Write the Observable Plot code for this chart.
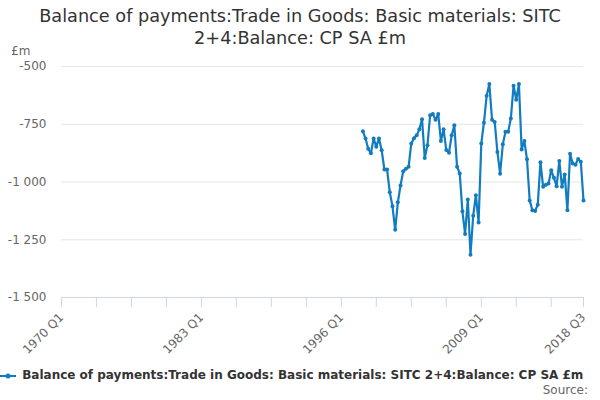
<!DOCTYPE html>
<html>
<head>
<meta charset="utf-8">
<script src="https://cdn.jsdelivr.net/npm/d3@7"></script>
<script src="https://cdn.jsdelivr.net/npm/@observablehq/plot@0.6"></script>
<style>
  html, body { margin: 0; padding: 0; background: #fff; }
  #wrap { position: relative; width: 600px; height: 400px; overflow: hidden; font-family: "DejaVu Sans", sans-serif; }
  #title { position: absolute; left: 0; top: 5px; width: 600px; text-align: center; font-size: 17.7px; line-height: 22px; color: #333; }
  #chart { position: absolute; left: 0; top: 56px; }
  #unit { position: absolute; left: 11px; top: 44px; font-size: 12px; color: #666; }
  #legend { position: absolute; left: 0; top: 368px; width: 640px; white-space: nowrap; font-size: 12px; font-weight: bold; color: #333; }
  #legend svg { vertical-align: middle; }
  #source { position: absolute; right: 12px; top: 383px; font-size: 12px; color: #666; }
</style>
</head>
<body>
<div id="wrap">
  <div id="title">Balance of payments:Trade in Goods: Basic materials: SITC<br>2+4:Balance: CP SA £m</div>
  <div id="unit">£m</div>
  <div id="chart"></div>
  <div id="legend"><svg width="18" height="10"><line x1="0" y1="5" x2="16" y2="5" stroke="#127cc1" stroke-width="2"/><circle cx="8" cy="5" r="2.5" fill="#127cc1"/></svg> Balance of payments:Trade in Goods: Basic materials: SITC 2+4:Balance: CP SA £m</div>
  <div id="source">Source:</div>
</div>
<script>
const seriesName = "Balance of payments:Trade in Goods: Basic materials: SITC 2+4:Balance: CP SA £m";
const startYear = 1998;
const values = [
  -780, -812, -856, -876,
  -812, -847, -812, -863,
  -946, -946, -1044, -1105,
  -1207, -1088, -1015, -953,
  -943, -934, -833, -811,
  -798, -772, -728, -896,
  -841, -711, -706, -731,
  -706, -822, -772, -862,
  -873, -798, -754, -934,
  -963, -1127, -1225, -1076,
  -1315, -1146, -1057, -1175,
  -833, -743, -627, -576,
  -731, -740, -870, -964,
  -837, -783, -783, -725,
  -583, -644, -576, -859,
  -822, -902, -1080, -1122,
  -1125, -1098, -914, -1021,
  -1012, -1007, -949, -982,
  -1018, -909, -1021, -967,
  -1122, -878, -920, -925,
  -900, -912, -1080
];
const yTicks = [-500, -750, -1000, -1250, -1500];
const xTickLabels = ["1970 Q1", "1973 Q2", "1976 Q3", "1979 Q4", "1983 Q1", "1986 Q2", "1989 Q3", "1992 Q4",
  "1996 Q1", "1999 Q2", "2002 Q3", "2005 Q4", "2009 Q1", "2012 Q2", "2015 Q3", "2018 Q3"];
const shownLabels = ["1970 Q1", "1983 Q1", "1996 Q1", "2009 Q1", "2018 Q3"];

const qDate = (label) => {
  const [y, q] = label.split(" Q");
  return new Date(Date.UTC(+y, (+q - 1) * 3, 1));
};
const data = values.map((v, i) => ({
  date: new Date(Date.UTC(startYear + Math.floor(i / 4), (i % 4) * 3, 1)),
  value: v
}));
const tickDates = xTickLabels.map(qDate);
const labelOf = new Map(xTickLabels.map((l) => [+qDate(l), l]));
const fmtY = (d) => {
  const s = Math.abs(d).toString().replace(/\B(?=(\d{3})+(?!\d))/g, " ");
  return (d < 0 ? "-" : "") + s;
};
const blue = "#127cc1";

const chart = Plot.plot({
  width: 600,
  height: 310,
  marginTop: 10,
  marginBottom: 69,
  marginLeft: 61,
  marginRight: 17,
  style: { fontFamily: "'DejaVu Sans', sans-serif", fontSize: "12px", color: "#666", background: "transparent" },
  x: { type: "utc", domain: [qDate("1970 Q1"), qDate("2018 Q3")] },
  y: { domain: [-1500, -500] },
  marks: [
    Plot.gridY(yTicks, { stroke: "#e6e6e6", strokeOpacity: 1 }),
    Plot.ruleY([-1500], { stroke: "#ccd6eb", strokeOpacity: 1 }),
    Plot.axisX(tickDates, {
      tickSize: 10, stroke: "#ccd6eb", strokeOpacity: 1, tickRotate: -45, tickPadding: 8,
      tickFormat: (d) => shownLabels.includes(labelOf.get(+d)) ? labelOf.get(+d) : "",
      label: null, fill: "#666", fontSize: 12
    }),
    Plot.axisY(yTicks, { tickSize: 0, tickPadding: 15, tickFormat: fmtY, label: null, fill: "#666", fontSize: 12 }),
    Plot.line(data, { x: "date", y: "value", stroke: blue, strokeWidth: 2.2 }),
    Plot.dot(data, { x: "date", y: "value", fill: blue, r: 2 })
  ]
});
document.getElementById("chart").appendChild(chart);
</script>
</body>
</html>
